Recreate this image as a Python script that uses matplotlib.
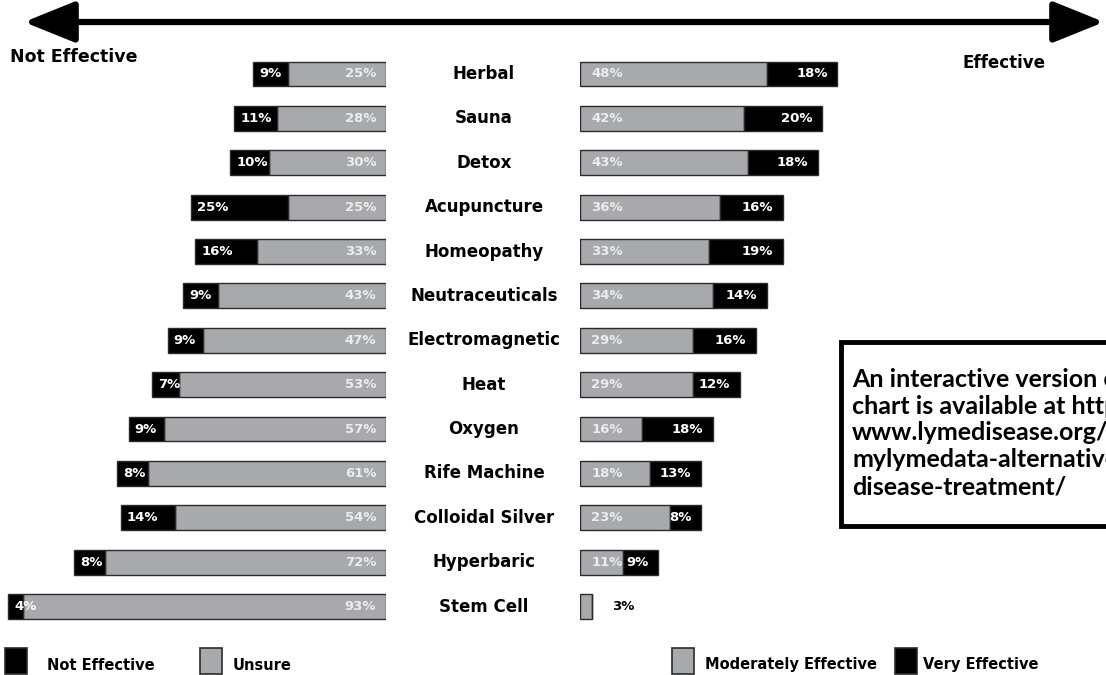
import matplotlib

matplotlib.use("Agg")
import matplotlib.pyplot as plt
import matplotlib.transforms as mtransforms
from matplotlib.patches import Rectangle, FancyArrowPatch

# survey results, % of respondents per treatment
treatments = ["Herbal", "Sauna", "Detox", "Acupuncture", "Homeopathy",
              "Neutraceuticals", "Electromagnetic", "Heat", "Oxygen",
              "Rife Machine", "Colloidal Silver", "Hyperbaric", "Stem Cell"]
not_effective = [9, 11, 10, 25, 16, 9, 9, 7, 9, 8, 14, 8, 4]
unsure = [25, 28, 30, 25, 33, 43, 47, 53, 57, 61, 54, 72, 93]
moderately = [48, 42, 43, 36, 33, 34, 29, 29, 16, 18, 23, 11, 3]
very = [18, 20, 18, 16, 19, 14, 16, 12, 18, 13, 8, 9, 0]

GRAY = "#a7a9ac"
EDGE = "#2b2b2b"
LIGHT = "#ececec"
FONT = "DejaVu Sans"

W, H = 1106, 675
fig = plt.figure(figsize=(W / 100, H / 100), dpi=100)

n = len(treatments)
rows = list(range(n))
top_px, bot_px = 51.8, 628.8
ax_b = (H - bot_px) / H
ax_h = (bot_px - top_px) / H
px_per_pct = 3.9

axL = fig.add_axes([0, ax_b, 386 / W, ax_h])
axR = fig.add_axes([580 / W, ax_b, 526 / W, ax_h])
for ax in (axL, axR):
    ax.set_ylim(n - 0.5, -0.5)
    ax.axis("off")
axL.set_xlim(386 / px_per_pct, 0)
axR.set_xlim(0, 526 / px_per_pct)

bh = 0.56
bar_kw = dict(height=bh, edgecolor=EDGE, linewidth=1.0)
txt_kw = dict(fontsize=9.5, fontweight="bold", family=FONT, va="center",
              textcoords="offset points")

# left side: unsure next to the centre, not effective further out
axL.barh(rows, unsure, color=GRAY, **bar_kw)
axL.barh(rows, not_effective, left=unsure, color="black", **bar_kw)
for i in rows:
    axL.annotate(f"{unsure[i]}%", (0, i), xytext=(-7, 0), ha="right",
                 color=LIGHT, **txt_kw)
    axL.annotate(f"{not_effective[i]}%", (unsure[i] + not_effective[i], i),
                 xytext=(4.5, 0), ha="left", color="white", **txt_kw)

# right side: moderately next to the centre, very effective further out
axR.barh(rows, moderately, color=GRAY, **bar_kw)
axR.barh(rows, very, left=moderately, color="black", **bar_kw)
for i in rows:
    if very[i] == 0:
        axR.annotate(f"{moderately[i]}%", (moderately[i], i), xytext=(15, 0),
                     ha="left", color="black", **txt_kw)
        continue
    axR.annotate(f"{moderately[i]}%", (0, i), xytext=(8, 0), ha="left",
                 color=LIGHT, **txt_kw)
    axR.annotate(f"{very[i]}%", (moderately[i] + very[i], i), xytext=(-7, 0),
                 ha="right", color="white", **txt_kw)

# treatment names in the gap
trans = mtransforms.blended_transform_factory(fig.transFigure, axL.transData)
for i, name in enumerate(treatments):
    fig.text(484 / W, i, name, transform=trans, ha="center", va="center",
             fontsize=12, fontweight="bold", family=FONT)

# double-headed arrow across the top
fig.patches.append(FancyArrowPatch(
    (24 / W, 1 - 22 / H), (1104 / W, 1 - 22 / H), transform=fig.transFigure,
    arrowstyle="<|-|>,head_length=2.6,head_width=1.05", lw=4.5,
    color="black", mutation_scale=12, shrinkA=0, shrinkB=0))

fig.text(10 / W, 1 - 57 / H, "Not Effective", ha="left", va="center",
         fontsize=12.5, fontweight="bold", family=FONT)
fig.text(963 / W, 1 - 63 / H, "Effective", ha="left", va="center",
         fontsize=12, fontweight="bold", family=FONT)

# note box (runs off the right edge as in the source)
fig.patches.append(Rectangle((841 / W, 1 - 526 / H), 400 / W, 184 / H,
                             transform=fig.transFigure, facecolor="white",
                             edgecolor="black", linewidth=3.5))
fig.text(852 / W, 1 - 433 / H,
         "An interactive version of this\nchart is available at https://\n"
         "www.lymedisease.org/\nmylymedata-alternative-lyme-\n"
         "disease-treatment/",
         ha="left", va="center", fontsize=18, fontweight="bold",
         family="Lato", linespacing=1.2)

# legend along the bottom
legend_items = [(5, "black", 47, "Not Effective"),
                (200, GRAY, 233, "Unsure"),
                (672, GRAY, 705, "Moderately Effective"),
                (895, "black", 923, "Very Effective")]
for sq_x, col, tx, label in legend_items:
    fig.patches.append(Rectangle((sq_x / W, 1 - 674 / H), 22 / W, 26 / H,
                                 transform=fig.transFigure, facecolor=col,
                                 edgecolor=EDGE, linewidth=1.2))
    fig.text(tx / W, 1 - 665 / H, label, ha="left", va="center",
             fontsize=10.5, fontweight="bold", family=FONT)

fig.savefig("out.png", dpi=100)
plt.close(fig)
